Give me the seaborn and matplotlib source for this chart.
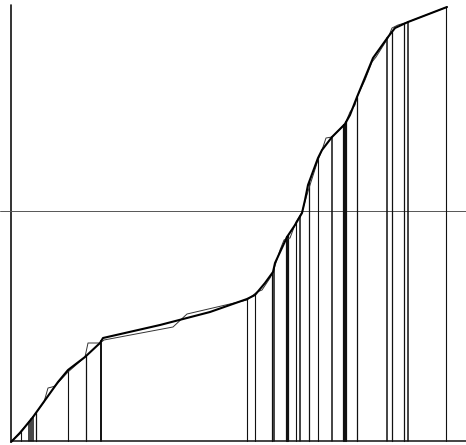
import numpy as np
import pandas as pd
import matplotlib
matplotlib.use("Agg")
import matplotlib.pyplot as plt
import seaborn as sns

# Values: x from the left axis, y up from the bottom axis
W, H = 466, 445
X0, Y0 = 11, 441

# smooth (thick) curve
thick_px = [11, 20, 33, 43, 58, 68, 85, 100, 103, 160, 210, 247, 255, 265,
            273, 275, 287, 295, 302, 305, 308, 318, 322, 332, 345, 350, 357, 373,
            388, 395, 408, 447]
thick_py = [442, 433, 417, 403, 382, 370, 357, 343, 338, 325, 312, 299, 295, 283,
            272, 263, 237, 225, 213, 200, 185, 158, 150, 137, 124, 115, 97, 58,
            37, 28, 22, 7]

# thin polyline that wanders around it
thin_px = [11, 20, 30, 44, 48, 52, 55, 68, 85, 88, 100, 104, 173, 187, 247, 257,
           262, 270, 273, 280, 284, 290, 296, 302, 306, 310, 318, 322, 326, 332,
           345, 350, 355, 357, 365, 372, 376, 388, 392, 398, 408, 447]
thin_py = [442, 432, 421, 402, 388, 387, 386, 372, 357, 343, 343, 340, 327, 314, 300, 292,
           290, 278, 272, 250, 240, 238, 222, 212, 198, 185, 160, 150, 138, 137,
           124, 112, 105, 97, 80, 62, 57, 38, 28, 25, 22, 7]

# vertical drop lines and their widths
drop_px = [21, 29, 31, 33, 36, 68, 86, 101, 247, 255, 272, 274, 287, 288, 296, 300,
           309, 318, 332, 344, 346, 357, 387, 392, 404, 408, 446]
drop_lw = [0.8, 1.1, 1.1, 1.1, 0.9, 0.8, 0.9, 1.4, 0.8, 0.8, 0.9, 1.1, 1.6, 1.6, 0.8, 1.1,
           0.9, 0.8, 1.1, 1.6, 1.6, 0.9, 1.1, 0.9, 0.9, 1.1, 0.8]

ref_py = 211

thick = pd.DataFrame({"x": np.array(thick_px) - X0, "y": Y0 - np.array(thick_py)})
thin = pd.DataFrame({"x": np.array(thin_px) - X0, "y": Y0 - np.array(thin_py)})

sns.set_style("white")
fig = plt.figure(figsize=(W / 100, H / 100), dpi=100)
ax = fig.add_axes([0, 0, 1, 1])
ax.set_xlim(-X0, W - X0)
ax.set_ylim(Y0 - H, Y0)
ax.axis("off")

# axes lines
ax.plot([0, 0], [0, Y0 - 5], color="#111111", lw=1.2)
ax.plot([0, W - X0], [0, 0], color="#111111", lw=1.1)
# horizontal reference line
ax.plot([-X0, W - X0], [Y0 - ref_py] * 2, color="#555555", lw=0.7)

# drop lines up to the curve
dx = np.array(drop_px) - X0
tops = np.interp(dx, thick["x"], thick["y"])
for x, top, lw in zip(dx, tops, drop_lw):
    ax.plot([x, x], [0, top], color="#111111", lw=lw)

sns.lineplot(data=thin, x="x", y="y", sort=False, ax=ax, color="#333333", lw=0.7)
sns.lineplot(data=thick, x="x", y="y", sort=False, ax=ax, color="black", lw=1.5)

fig.savefig("out.png", dpi=100)
